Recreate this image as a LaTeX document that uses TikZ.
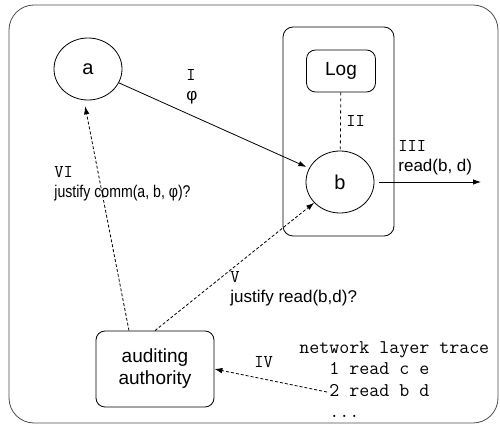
\documentclass[tikz,border=0pt]{standalone}
\usepackage{fontspec}
\setmainfont{Liberation Sans}
\usepackage{tikz}
\usetikzlibrary{shapes.geometric}
\usetikzlibrary{arrows.meta,arrows}
\newcommand{\rn}[1]{{\ttfamily\fontsize{18}{20}\selectfont #1}}
\newcommand{\ind}{\phantom{net}}
\newcommand{\tight}[1]{\scalebox{0.83}[1]{#1}}

\begin{document}
\begin{tikzpicture}[x=1pt,y=-1pt,line width=0.8pt,
    agent/.style={draw,ellipse,minimum width=68pt,minimum height=62pt,inner sep=0pt,font=\fontsize{20}{22}\selectfont},
    rbox/.style={draw,rounded corners=9pt,align=center,inner sep=0pt,font=\fontsize{19}{22}\selectfont},
    lbl/.style={anchor=north west,inner sep=0pt,align=left,font=\fontsize{17}{20}\selectfont},
    msg/.style={-{Latex[length=8pt,width=5.5pt]}},
    ask/.style={msg,dash pattern=on 3pt off 2pt}]
        \useasboundingbox (0,0) rectangle (500,427);
        \draw[black!70,rounded corners=25pt] (9,5) rectangle (498,423);
        % host of b, with its log
        \draw[rounded corners=10pt] (283,27) rectangle (394,236);
        \node[rbox,minimum width=69pt,minimum height=42pt] (log) at (341,71) {Log};
        \node[agent] (a) at (88,69) {a};
        \node[agent] (b) at (340,182) {b};
        \node[rbox,minimum width=118pt,minimum height=76pt] (auth) at (155,369) {auditing\\authority};
        \node[lbl,font=\ttfamily\fontsize{19.4}{21.5}\selectfont] (trace) at (299,341)
            {network layer trace\\\ind1 read c e\\\ind2 read b d\\\ind...};
        \coordinate (out) at (481,182);
        \coordinate (line2) at (327,392);
        %
        % Labels:
        \node[lbl] (l1) at (186,69) {\rn{I}\\φ};
        \node[lbl] (l2) at (346,115) {\rn{II}};
        \node[lbl] (l3) at (398,140) {\rn{III}\\read(b, d)};
        \node[lbl] (l4) at (254,356) {\rn{IV}};
        \node[lbl] (l5) at (230,271) {\rn{V}\\justify read(b,d)?};
        \node[lbl] (l6) at (54,166) {\rn{VI}\\\tight{justify comm(a, b, φ)?}};
        %
        % Edges:
      \draw[msg, shorten >=3pt] (a) -- (b);
      \draw[dashed] (log) -- (b);
      \draw[msg, shorten <=5pt] (b.east) -- (out);
      \draw[ask] (line2) -- (auth.east);
      \draw[ask] (auth.north) -- (b);
      \draw[ask, shorten >=6pt] ([xshift=-26pt]auth.north) -- ([xshift=-4pt]a.south);
\end{tikzpicture}
\end{document}
